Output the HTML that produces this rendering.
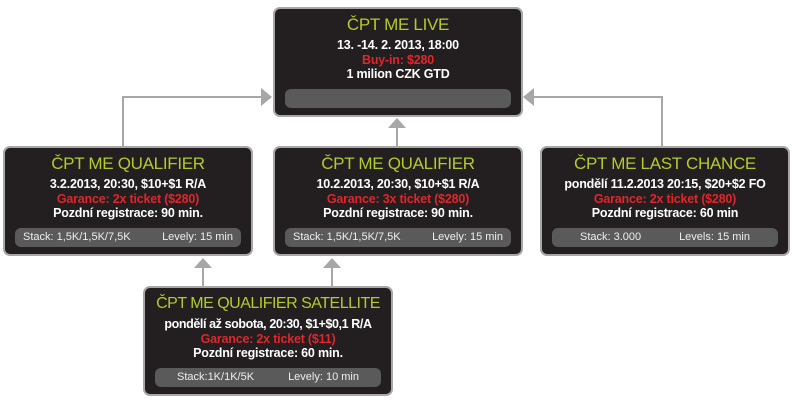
<!DOCTYPE html>
<html><head><meta charset="utf-8"><style>
body{margin:0;width:793px;height:406px;background:#fff;position:relative;overflow:hidden;font-family:"Liberation Sans","DejaVu Sans",sans-serif}
.b{position:absolute;width:246px;height:106px;background:#231f20;border:2px solid #a7a7a7;border-radius:7px;box-sizing:content-box;text-align:center;color:#fff;white-space:nowrap}
.t{color:#b3cb2a;font-size:17px;margin-top:6px;line-height:20px;letter-spacing:-0.3px}
.l{font-weight:bold;font-size:12.5px;line-height:14.5px;letter-spacing:-0.2px}
.r{color:#e0252b}
.bar{position:absolute;left:10px;right:10px;height:19px;border-radius:6px;background:#5a5a5a;font-size:11px;line-height:19px;color:#eee}
.bar span{position:absolute}
</style></head><body>
<svg width="793" height="406" style="position:absolute;left:0;top:0">
<g stroke="#a7a7a7" stroke-width="2" fill="none">
<polyline points="123,148 123,97 264,97"/>
<polyline points="662,148 662,97 532,97"/>
<line x1="397" y1="148" x2="397" y2="126"/>
<line x1="203" y1="287" x2="203" y2="266"/>
<line x1="332" y1="287" x2="332" y2="266"/>
</g>
<g fill="#a7a7a7">
<polygon points="272,97 261,88 261,106"/>
<polygon points="523,97 534,88 534,106"/>
<polygon points="397,118 388,128 406,128"/>
<polygon points="203,258 194,268 212,268"/>
<polygon points="332,258 323,268 341,268"/>
</g>
</svg>
<div class="b" style="left:273px;top:7px">
<div class="t">ČPT ME LIVE</div>
<div class="l" style="margin-top:3px">13. -14. 2. 2013, 18:00</div>
<div class="l r">Buy-in: $280</div>
<div class="l">1 milion CZK GTD</div>
<div class="bar" style="top:80px"></div>
</div>
<div class="b" style="left:3px;top:146px">
<div class="t">ČPT ME QUALIFIER</div>
<div class="l" style="margin-top:3px">3.2.2013, 20:30, $10+$1 R/A</div>
<div class="l r">Garance: 2x ticket ($280)</div>
<div class="l">Pozdní registrace: 90 min.</div>
<div class="bar" style="top:80px"><span style="left:8px">Stack: 1,5K/1,5K/7,5K</span><span style="right:8px">Levely: 15 min</span></div>
</div>
<div class="b" style="left:273px;top:146px">
<div class="t">ČPT ME QUALIFIER</div>
<div class="l" style="margin-top:3px">10.2.2013, 20:30, $10+$1 R/A</div>
<div class="l r">Garance: 3x ticket ($280)</div>
<div class="l">Pozdní registrace: 90 min.</div>
<div class="bar" style="top:80px"><span style="left:8px">Stack: 1,5K/1,5K/7,5K</span><span style="right:8px">Levely: 15 min</span></div>
</div>
<div class="b" style="left:540px;top:146px">
<div class="t">ČPT ME LAST CHANCE</div>
<div class="l" style="margin-top:3px">pondělí 11.2.2013 20:15, $20+$2 FO</div>
<div class="l r">Garance: 2x ticket ($280)</div>
<div class="l">Pozdní registrace: 60 min</div>
<div class="bar" style="top:80px"><span style="left:28px">Stack: 3.000</span><span style="right:28px">Levels: 15 min</span></div>
</div>
<div class="b" style="left:143px;top:286px">
<div class="t" style="font-size:16px;letter-spacing:-0.5px">ČPT ME QUALIFIER SATELLITE</div>
<div class="l" style="margin-top:3px;letter-spacing:-0.4px">pondělí až sobota, 20:30, $1+$0,1 R/A</div>
<div class="l r">Garance: 2x ticket ($11)</div>
<div class="l">Pozdní registrace: 60 min.</div>
<div class="bar" style="top:80px"><span style="left:22px">Stack:1K/1K/5K</span><span style="right:22px">Levely: 10 min</span></div>
</div>
</body></html>
